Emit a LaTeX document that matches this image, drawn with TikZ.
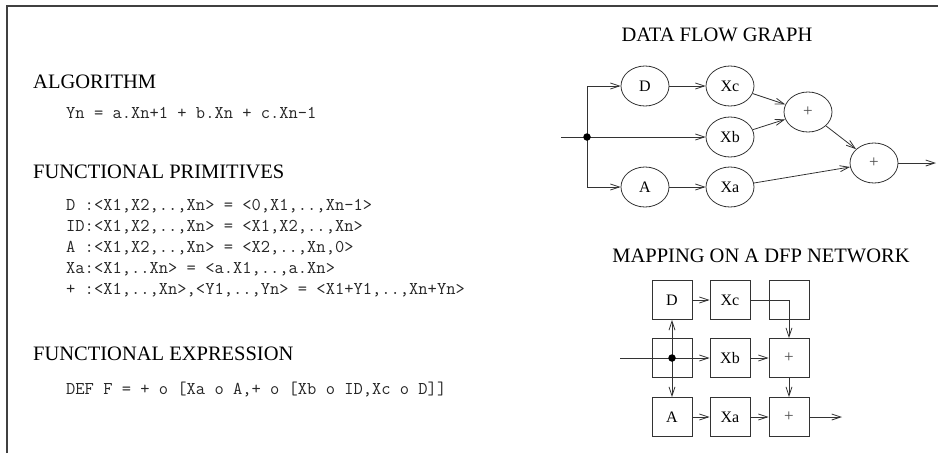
\documentclass[tikz,border=0pt]{standalone}
\usepackage{fontspec}
\setmainfont{Liberation Serif}
\usetikzlibrary{arrows.meta,shapes.geometric}

\begin{document}
\begin{tikzpicture}[x=1pt,y=-1pt,
  ink/.style={draw=black!80,line width=0.8pt},
  arr/.style={ink,-{Straight Barb[length=9pt,width=6pt]}},
  heading/.style={anchor=west,inner sep=0pt,font=\fontsize{20.5}{24}\selectfont},
  title/.style={inner sep=0pt,font=\fontsize{20.5}{24}\selectfont},
  code/.style={anchor=west,inner sep=0pt,font=\ttfamily\fontsize{18}{20}\selectfont,text=black!85},
  opnode/.style={ellipse,ink,minimum width=48pt,minimum height=40pt,inner sep=0pt,
                 font=\fontsize{16}{18}\selectfont},
  pe/.style={rectangle,ink,minimum width=40pt,minimum height=39pt,inner sep=0pt,
             font=\fontsize{16}{18}\selectfont},
  plus/.style={font=\fontsize{17}{18}\selectfont,text=black!70},
  junction/.style={circle,fill=black,inner sep=0pt,minimum size=7.5pt}
]
\useasboundingbox (0,0) rectangle (938,453);

% page frame
\draw[black!75,line width=1.3pt] (7,453) -- (7,6) -- (938,6);

% ---------- left column: texts ----------
\node[heading] (h1) at (33,82) {ALGORITHM};
\node[code] (alg) at (66,113) {Yn = a.Xn+1 + b.Xn + c.Xn-1};

\node[heading] (h2) at (33,172) {FUNCTIONAL PRIMITIVES};
\node[code] (p1) at (66,206) {D :<X1,X2,..,Xn> = <0,X1,..,Xn-1>};
\node[code] (p2) at (66,227) {ID:<X1,X2,..,Xn> = <X1,X2,..,Xn>};
\node[code] (p3) at (66,248) {A :<X1,X2,..,Xn> = <X2,..,Xn,0>};
\node[code] (p4) at (66,269) {Xa:<X1,..Xn> = <a.X1,..,a.Xn>};
\node[code] (p5) at (66,290) {+ :<X1,..,Xn>,<Y1,..,Yn> = <X1+Y1,..,Xn+Yn>};

\node[heading] (h3) at (33,354) {FUNCTIONAL EXPRESSION};
\node[code] (fe) at (66,390) {DEF F = + o [Xa o A,+ o [Xb o ID,Xc o D]]};

% ---------- data flow graph ----------
\node[title] (t1) at (717,35) {DATA FLOW GRAPH};

\node[opnode] (D)  at (645,86)  {D};
\node[opnode] (Xc) at (730,86)  {Xc};
\node[opnode] (Xb) at (730,137) {Xb};
\node[opnode] (A)  at (645,187) {A};
\node[opnode] (Xa) at (730,187) {Xa};
\node[opnode,plus] (S1) at (808,112) {+};
\node[opnode,plus] (S2) at (874,163) {+};

\coordinate (in)  at (561,137);
\coordinate (J)   at (587,137);
\coordinate (out) at (936,163);

\draw[ink] (in) -- (J);
\draw[arr] (J) |- (D);
\draw[arr] (J) |- (A);
\draw[arr] (J) -- (Xb);
\draw[arr] (D) -- (Xc);
\draw[arr] (A) -- (Xa);
\draw[arr] (Xc) -- (S1);
\draw[arr] (Xb) -- (S1);
\draw[arr] (S1) -- (S2);
\draw[arr] (Xa) -- (S2);
\draw[arr] (S2) -- (out);
\node[junction] (Jdot) at (J) {};

% ---------- mapping on the DFP network ----------
\node[title] (t2) at (761,256) {MAPPING ON A DFP NETWORK};

\node[pe] (mD)  at (672,300) {D};
\node[pe] (mXc) at (730,300) {Xc};
\node[pe] (mE)  at (789,300) {};
\node[pe] (mJ)  at (672,358) {};
\node[pe] (mXb) at (730,358) {Xb};
\node[pe,plus] (mS1) at (789,358) {+};
\node[pe] (mA)  at (672,417) {A};
\node[pe] (mXa) at (730,417) {Xa};
\node[pe,plus] (mS2) at (789,417) {+};

\coordinate (min)  at (620,358);
\coordinate (mout) at (842,417);

\draw[ink] (min) -- (mJ.center);
\draw[arr] (mJ.center) -- (mXb);
\draw[arr] (mJ.center) -- (mD);
\draw[arr] (mJ.center) -- (mA);
\draw[arr] (mD) -- (mXc);
\draw[arr] (mXc) -| (mS1);
\draw[arr] (mXb) -- (mS1);
\draw[arr] (mS1) -- (mS2);
\draw[arr] (mA) -- (mXa);
\draw[arr] (mXa) -- (mS2);
\draw[arr] (mS2) -- (mout);
\node[junction] (mdot) at (mJ.center) {};
\end{tikzpicture}
\end{document}
